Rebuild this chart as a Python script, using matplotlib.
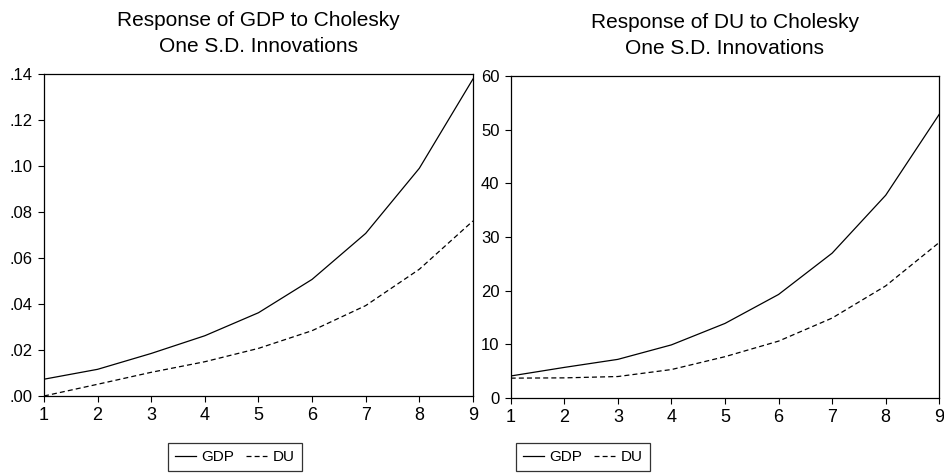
import numpy as np
import matplotlib.pyplot as plt

plt.rcParams['font.family'] = ['Liberation Sans', 'DejaVu Sans']

periods = [1, 2, 3, 4, 5, 6, 7, 8, 9]

# response of GDP
gdp_gdp = [0.0073, 0.0116, 0.0185, 0.0262, 0.0362, 0.0507, 0.0707, 0.0990, 0.1378]
gdp_du = [0.0000, 0.0051, 0.0103, 0.0149, 0.0207, 0.0284, 0.0393, 0.0551, 0.0761]

# response of DU
du_gdp = [4.1, 5.7, 7.2, 9.9, 13.9, 19.3, 27.0, 37.8, 52.9]
du_du = [3.7, 3.75, 4.0, 5.3, 7.7, 10.6, 14.9, 20.9, 29.0]

left_ticks = [0.00, 0.02, 0.04, 0.06, 0.08, 0.10, 0.12, 0.14]
left_ticklabels = [".00", ".02", ".04", ".06", ".08", ".10", ".12", ".14"]
right_ticks = [0, 10, 20, 30, 40, 50, 60]

fig = plt.figure(figsize=(9.44, 4.73), dpi=100)
ax1 = fig.add_axes([0.0466, 0.1628, 0.4544, 0.6808])
ax2 = fig.add_axes([0.541, 0.1586, 0.454, 0.6804])

title_fs = 15
xtick_fs = 13
ytick_fs = 12
leg_fs = 11

def style(ax, title):
    ax.set_xlim(1, 9)
    ax.set_xticks(periods)
    ax.tick_params(direction='out', length=4, width=0.8,
                   top=False, right=False, pad=5)
    ax.tick_params(axis='x', labelsize=xtick_fs, pad=4)
    ax.tick_params(axis='y', labelsize=ytick_fs, pad=4)
    for s in ax.spines.values():
        s.set_linewidth(0.9)
    ax.set_title(title, fontsize=title_fs, pad=16, linespacing=1.45)

ax1.plot(periods, gdp_gdp, 'k-', lw=0.9, label='GDP')
ax1.plot(periods, gdp_du, 'k--', lw=0.9, dashes=(4, 2.5), label='DU')
ax1.set_ylim(0, 0.14)
ax1.set_yticks(left_ticks)
ax1.set_yticklabels(left_ticklabels)
style(ax1, "Response of GDP to Cholesky\nOne S.D. Innovations")

ax2.plot(periods, du_gdp, 'k-', lw=0.9, label='GDP')
ax2.plot(periods, du_du, 'k--', lw=0.9, dashes=(4, 2.5), label='DU')
ax2.set_ylim(0, 60)
ax2.set_yticks(right_ticks)
style(ax2, "Response of DU to Cholesky\nOne S.D. Innovations")

for ax, x0 in [(ax1, 168 / 944), (ax2, 516 / 944)]:
    leg = ax.legend(loc='upper left', bbox_to_anchor=(x0, 1 - 443 / 473),
                    bbox_transform=fig.transFigure, ncol=2, fontsize=leg_fs,
                    frameon=True, fancybox=False, edgecolor='black',
                    handlelength=1.35, handletextpad=0.4, columnspacing=0.75,
                    borderpad=0.45, borderaxespad=0)
    leg.get_frame().set_linewidth(0.9)

plt.savefig("out.png", dpi=100)
